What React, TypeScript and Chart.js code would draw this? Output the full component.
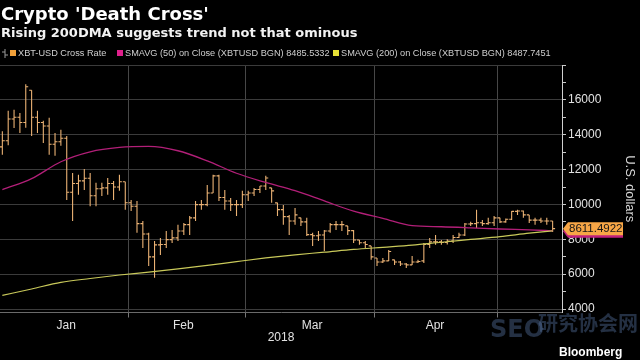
import React, { useEffect, useRef } from 'react';
import { Chart, registerables } from 'chart.js';

Chart.register(...registerables);

// ---- data (one bar per weekday, Jan 2 – May 14, 2018) ----
const MONTH_LABELS = ['Jan', 'Feb', 'Mar', 'Apr'];
const MONTH_START_INDEX = [22, 42, 64, 85];

const OPEN = [
  13300, 13650, 14900, 15000, 14700, 16550, 15000, 14700, 14500, 13450,
  13600, 13800, 10700, 11200, 11350, 11500, 10500, 10900, 10950, 11200,
  11000, 11300, 10100, 9900, 8900, 8300, 6990, 7680, 7700, 7980,
  8080, 8480, 8840, 9230, 9990, 9990, 10660, 11640, 10400, 10200,
  9990, 9990, 10560, 10660, 10860, 11060, 10950, 10090, 9700, 9300,
  9050, 9230, 9000, 8270, 8200, 8250, 8480, 8840, 8840, 8770,
  8500, 7960, 7800, 7620, 6930, 6700, 6760, 6820, 6700, 6580,
  6530, 6700, 6760, 7700, 7850, 7850, 7820, 7900, 8100, 8250,
  8880, 8900, 8950, 8900, 8950, 9230, 9000, 9150, 9600, 9620,
  9400, 9100, 9100, 9050, 9050,
];
const HIGH = [
  14200, 15370, 15430, 15250, 16900, 16550, 15370, 14800, 14970, 14100,
  14280, 13930, 11800, 11700, 12040, 11800, 11240, 11240, 11520, 11350,
  11700, 11300, 10260, 10200, 9050, 8370, 7900, 8080, 8480, 8540,
  8830, 8940, 9340, 10200, 10260, 11120, 11700, 11700, 10830, 10370,
  10260, 10780, 10780, 10950, 11060, 11640, 10950, 10090, 9970, 9400,
  9800, 9230, 9230, 8370, 8480, 8540, 8940, 9050, 9050, 8770,
  8540, 7960, 7900, 7620, 6930, 6930, 7390, 6820, 6760, 6640,
  7040, 6820, 7790, 8080, 8250, 7960, 8000, 8250, 8370, 8940,
  9000, 9690, 9110, 9230, 9340, 9230, 9200, 9630, 9690, 9650,
  9400, 9230, 9230, 9230, 9050,
];
const LOW = [
  12850, 13400, 14390, 14100, 14400, 13930, 14100, 13530, 12850, 12800,
  13360, 10260, 9050, 10550, 10830, 9900, 9900, 10490, 10550, 10260,
  10780, 9690, 9630, 8370, 7500, 6470, 5800, 7100, 7500, 7790,
  7900, 8250, 8250, 9050, 9690, 9900, 10660, 10200, 9690, 9630,
  9340, 9800, 10200, 10490, 10660, 10830, 10090, 9340, 8830, 8250,
  8830, 8770, 8190, 7620, 7900, 7330, 8370, 8540, 8480, 8250,
  7790, 7680, 7500, 6820, 6470, 6640, 6760, 6530, 6470, 6360,
  6530, 6640, 6640, 7500, 7680, 7680, 7700, 7790, 8080, 8190,
  8770, 8650, 8770, 8830, 8770, 8940, 8950, 9110, 9400, 9230,
  8940, 8830, 8940, 8830, 8420,
];
const CLOSE = [
  13650, 14900, 15000, 14700, 16750, 15000, 14700, 14500, 13450, 13600,
  13800, 10700, 11200, 11350, 11500, 10500, 10900, 10950, 11200, 11000,
  11300, 10100, 9900, 8900, 8300, 6990, 7680, 7700, 7980, 8080,
  8480, 8840, 9230, 9990, 9990, 10660, 11640, 10400, 10200, 9990,
  9990, 10560, 10660, 10860, 11060, 11520, 10780, 9700, 9300, 9050,
  9400, 9000, 8270, 8200, 8250, 8480, 8840, 8840, 8840, 8500,
  7960, 7800, 7700, 6990, 6700, 6760, 7300, 6700, 6580, 6530,
  6700, 6730, 7700, 7850, 7850, 7820, 7900, 8100, 8250, 8880,
  8900, 8950, 8900, 8950, 9230, 9000, 9150, 9600, 9620, 9400,
  9100, 9100, 9050, 9050, 8611.4922,
];

const SMA_INDEX = [0, 5, 10, 15, 20, 25, 30, 35, 40, 45, 50, 55, 60, 65, 70, 75, 80, 85, 90, 94];
const SMA50 = [
  10850, 11480, 12450, 13020, 13270, 13330, 13080, 12500, 11790, 11260,
  10790, 10200, 9610, 9200, 8780, 8720, 8660, 8590, 8540, 8485.5332,
];
const SMA200 = [
  4780, 5150, 5530, 5750, 5950, 6120, 6300, 6500, 6720, 6930,
  7110, 7260, 7420, 7540, 7660, 7830, 7990, 8150, 8350, 8487.7451,
];

const Y_TICKS = [4000, 5000, 6000, 7000, 8000, 9000, 10000, 11000, 12000, 13000, 14000, 15000, 16000, 17000, 18000];
const Y_LABELED = [4000, 6000, 8000, 10000, 12000, 14000, 16000];

const BAR_COLOR = '#ebb274';
const SMA50_COLOR = '#b21f78';
const SMA200_COLOR = '#c9c95a';
const TAG_COLOR = '#f7a646';

const priceTag = {
  id: 'priceTag',
  afterDraw(chart: any) {
    const { ctx, chartArea, scales } = chart;
    const last = CLOSE[CLOSE.length - 1];
    const y = scales.y.getPixelForValue(last);
    const x0 = chartArea.right + 1;
    const w = 60;
    const h = 13;
    const tag = (yy: number, color: string) => {
      ctx.beginPath();
      ctx.moveTo(x0, yy);
      ctx.lineTo(x0 + 5, yy - h / 2);
      ctx.lineTo(x0 + w, yy - h / 2);
      ctx.lineTo(x0 + w, yy + h / 2);
      ctx.lineTo(x0 + 5, yy + h / 2);
      ctx.closePath();
      ctx.fillStyle = color;
      ctx.fill();
    };
    ctx.save();
    tag(y + 2.5, '#c0207e');
    tag(y, TAG_COLOR);
    ctx.fillStyle = '#151515';
    ctx.font = '11.5px "Liberation Sans", Arial, sans-serif';
    ctx.textBaseline = 'middle';
    ctx.textAlign = 'left';
    ctx.fillText(last.toFixed(4), x0 + 6, y + 0.5);
    ctx.restore();
  },
};

export default function App() {
  const ref = useRef<HTMLCanvasElement>(null);

  useEffect(() => {
    document.body.style.margin = '0';
    document.body.style.background = '#000';
    const canvas = ref.current;
    if (!canvas) return;

    const TICK = 0.42;
    const ohlc: any[] = [];
    for (let i = 0; i < CLOSE.length; i++) {
      ohlc.push(
        { x: i, y: LOW[i] }, { x: i, y: HIGH[i] }, { x: i, y: null },
        { x: i - TICK, y: OPEN[i] }, { x: i, y: OPEN[i] }, { x: i, y: null },
        { x: i, y: CLOSE[i] }, { x: i + TICK, y: CLOSE[i] }, { x: i, y: null },
      );
    }
    const sma50 = SMA_INDEX.map((x, i) => ({ x, y: SMA50[i] }));
    const sma200 = SMA_INDEX.map((x, i) => ({ x, y: SMA200[i] }));
    const monthGrid = MONTH_START_INDEX.map((v) => v - 0.5);

    const chart = new Chart(canvas, {
      type: 'line',
      data: {
        datasets: [
          {
            label: 'SMAVG (200)',
            data: sma200,
            borderColor: SMA200_COLOR,
            borderWidth: 1.2,
            pointRadius: 0,
            cubicInterpolationMode: 'monotone',
          },
          {
            label: 'SMAVG (50)',
            data: sma50,
            borderColor: SMA50_COLOR,
            borderWidth: 1.3,
            pointRadius: 0,
            cubicInterpolationMode: 'monotone',
          },
          {
            label: 'XBT-USD Cross Rate',
            data: ohlc,
            borderColor: BAR_COLOR,
            borderWidth: 1.1,
            pointRadius: 0,
            spanGaps: false,
            tension: 0,
          },
        ],
      } as any,
      options: {
        responsive: false,
        animation: false,
        events: [],
        layout: { padding: { top: 65, left: 0, right: 0, bottom: 0 } },
        plugins: {
          legend: { display: false },
          tooltip: { enabled: false },
        },
        scales: {
          x: {
            type: 'linear',
            min: -0.4,
            max: 95.6,
            position: 'bottom',
            afterBuildTicks: (s: any) => {
              s.ticks = monthGrid.map((v) => ({ value: v }));
            },
            afterFit: (s: any) => {
              s.height = 47.5;
            },
            ticks: {
              autoSkip: false,
              maxRotation: 0,
              labelOffset: -62,
              padding: 1,
              color: '#e2e2e2',
              font: { family: '"Liberation Sans", Arial, sans-serif', size: 12 },
              callback: (_v: any, i: number) => MONTH_LABELS[i],
            },
            grid: { color: '#474747', tickLength: 5, tickColor: '#777' },
            border: { color: '#6a6a6a' },
            title: {
              display: true,
              text: '2018',
              color: '#e2e2e2',
              font: { family: '"Liberation Sans", Arial, sans-serif', size: 12 },
              padding: { top: 0, bottom: 15 },
            },
          },
          y: {
            type: 'linear',
            position: 'right',
            min: 3800,
            max: 18000,
            afterBuildTicks: (s: any) => {
              s.ticks = Y_TICKS.map((v) => ({ value: v }));
            },
            afterFit: (s: any) => {
              s.width = 78;
            },
            ticks: {
              autoSkip: false,
              padding: 2,
              color: '#e2e2e2',
              font: { family: '"Liberation Sans", Arial, sans-serif', size: 12 },
              callback: (v: any) => (Y_LABELED.includes(Number(v)) ? String(v) : ''),
            },
            grid: {
              color: (c: any) => (c.tick && c.tick.value % 2000 === 0 ? '#3b3b3b' : 'rgba(0,0,0,0)'),
              tickColor: '#c8c8c8',
              tickLength: 4,
            },
            border: { color: '#d0d0d0' },
            title: {
              display: true,
              text: 'U.S. dollars',
              color: '#d8d8d8',
              font: { family: '"Liberation Sans", Arial, sans-serif', size: 13 },
              padding: { top: 3, bottom: 0 },
            },
          },
        },
      } as any,
      plugins: [priceTag],
    });
    return () => chart.destroy();
  }, []);

  const legendFont = '9.2px "Liberation Sans", Arial, sans-serif';
  const sq = (c: string) => ({
    position: 'absolute' as const,
    top: 50,
    width: 6,
    height: 6,
    background: c,
  });
  const txt = (left: number) => ({
    position: 'absolute' as const,
    left,
    top: 49,
    font: legendFont,
    lineHeight: '9.5px',
    color: '#cfcfcf',
    whiteSpace: 'nowrap' as const,
  });

  return (
    <div style={{ position: 'relative', width: 640, height: 360, background: '#000', overflow: 'hidden' }}>
      <canvas ref={ref} width={640} height={360} style={{ position: 'absolute', left: 0, top: 0 }} />
      <div style={{ position: 'absolute', left: 1, top: 5, font: 'bold 18px "DejaVu Sans", sans-serif', lineHeight: '18px', color: '#fff', whiteSpace: 'nowrap' }}>
        Crypto 'Death Cross'
      </div>
      <div style={{ position: 'absolute', left: 1, top: 25.5, font: 'bold 13px "DejaVu Sans", sans-serif', lineHeight: '13px', color: '#f2f2f2', whiteSpace: 'nowrap' }}>
        Rising 200DMA suggests trend not that ominous
      </div>
      <svg style={{ position: 'absolute', left: 2, top: 49 }} width={6} height={9}>
        <line x1={3} y1={0} x2={3} y2={9} stroke="#9a9a9a" strokeWidth={1} />
        <line x1={0} y1={3} x2={3} y2={3} stroke="#9a9a9a" strokeWidth={1} />
        <line x1={3} y1={6} x2={6} y2={6} stroke="#9a9a9a" strokeWidth={1} />
      </svg>
      <div style={{ ...sq('#f2a13a'), left: 10 }} />
      <div style={txt(18)}>XBT-USD Cross Rate</div>
      <div style={{ ...sq('#e0208c'), left: 117 }} />
      <div style={txt(125)}>{`SMAVG (50) on Close (XBTUSD BGN) ${SMA50[SMA50.length - 1].toFixed(4)}`}</div>
      <div style={{ ...sq('#e6e036'), left: 333 }} />
      <div style={txt(341)}>{`SMAVG (200) on Close (XBTUSD BGN) ${SMA200[SMA200.length - 1].toFixed(4)}`}</div>
      <div style={{ position: 'absolute', left: 490, top: 317, font: 'bold 24px "DejaVu Sans", sans-serif', lineHeight: '24px', color: 'rgba(95,125,175,0.38)', whiteSpace: 'nowrap' }}>
        SEO
      </div>
      <div style={{ position: 'absolute', left: 538, top: 312, font: 'bold 20px "Noto Sans CJK SC", sans-serif', lineHeight: '22px', color: 'rgba(95,125,175,0.38)', whiteSpace: 'nowrap' }}>
        研究协会网
      </div>
      <div style={{ position: 'absolute', left: 559, top: 346, font: 'bold 12px "Liberation Sans", Arial, sans-serif', lineHeight: '12px', color: '#fff', whiteSpace: 'nowrap' }}>
        Bloomberg
      </div>
    </div>
  );
}
